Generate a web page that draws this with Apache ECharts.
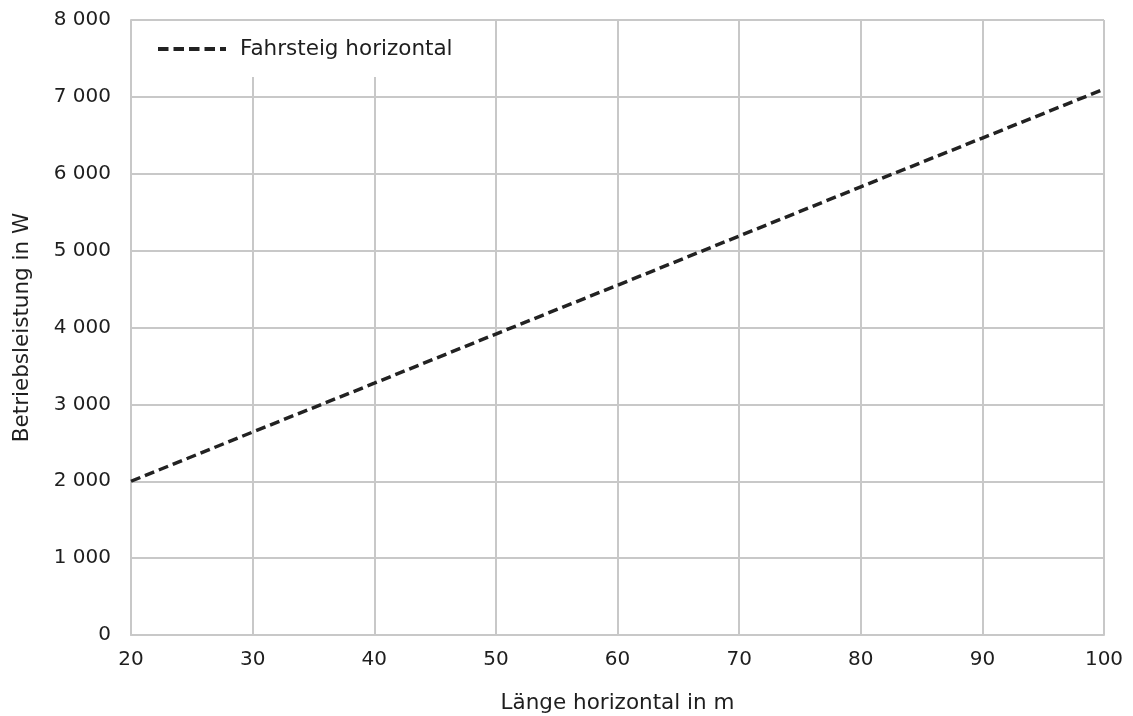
<!DOCTYPE html>
<html>
<head>
<meta charset="utf-8">
<script src="https://cdn.jsdelivr.net/npm/echarts@6/dist/echarts.min.js"></script>
<style>
html,body{margin:0;padding:0;background:#fff;}
#chart{width:1133px;height:716px;}
</style>
</head>
<body>
<div id="chart"></div>
<script>
const lengths = [20, 30, 40, 50, 60, 70, 80, 90, 100];
const power = [2000, 2640, 3275, 3915, 4550, 5190, 5830, 6465, 7100];
const seriesName = 'Fahrsteig horizontal';
const xAxisTitle = 'Länge horizontal in m';
const yAxisTitle = 'Betriebsleistung in W';

const textColor = '#1e1e1e';
const gridColor = '#c8c8c8';
const lineColor = '#222222';
const font = 'DejaVu Sans, sans-serif';
const legendDashIcon = 'path://M0,0h10.5v4h-10.5z M15.5,0h10.5v4h-10.5z M31,0h10.5v4h-10.5z M46.5,0h10.5v4h-10.5z M62,0h6v4h-6z';

const chart = echarts.init(document.getElementById('chart'));
chart.setOption({
  animation: false,
  backgroundColor: '#fff',
  grid: {left: 131, right: 29, top: 20, bottom: 81, containLabel: false, outerBoundsMode: 'none'},
  legend: {
    left: 132, top: 21,
    padding: [17, 30, 17, 26],
    backgroundColor: '#fff',
    itemWidth: 68, itemHeight: 4,
    itemStyle: {color: lineColor, borderWidth: 0},
    lineStyle: {width: 0},
    textStyle: {fontSize: 21.5, color: textColor, fontFamily: font, padding: [0, 0, 0, 9]},
    data: [{name: seriesName, icon: legendDashIcon}]
  },
  xAxis: {
    type: 'value', min: 20, max: 100, interval: 10,
    name: xAxisTitle, nameLocation: 'middle', nameGap: 57,
    nameTextStyle: {fontSize: 21.5, color: textColor, fontFamily: font},
    axisLine: {show: true, lineStyle: {color: gridColor, width: 2}},
    axisTick: {show: false},
    axisLabel: {fontSize: 20, color: textColor, fontFamily: font, margin: 15},
    splitLine: {show: true, lineStyle: {color: gridColor, width: 2}}
  },
  yAxis: {
    type: 'value', min: 0, max: 8000, interval: 1000,
    name: yAxisTitle, nameLocation: 'middle', nameGap: 98,
    nameTextStyle: {fontSize: 21.5, color: textColor, fontFamily: font},
    axisLine: {show: true, lineStyle: {color: gridColor, width: 2}},
    axisTick: {show: false},
    axisLabel: {fontSize: 20, color: textColor, fontFamily: font, margin: 20,
      formatter: v => String(v).replace(/\B(?=(\d{3})+(?!\d))/g, ' ')},
    splitLine: {show: true, lineStyle: {color: gridColor, width: 2}}
  },
  series: [{
    name: seriesName,
    type: 'line',
    data: lengths.map((x, i) => [x, power[i]]),
    symbol: 'none',
    lineStyle: {color: lineColor, width: 3.5, type: [10, 5]},
    itemStyle: {color: lineColor}
  }]
});
</script>
</body>
</html>
